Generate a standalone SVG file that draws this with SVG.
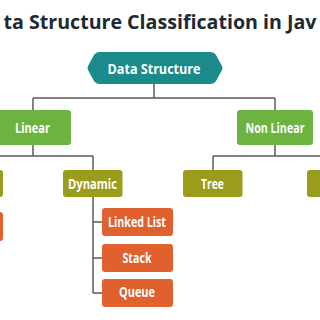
<svg xmlns="http://www.w3.org/2000/svg" width="320" height="320" viewBox="0 0 320 320">
<style>
.t{font-family:"Open Sans","Noto Sans","DejaVu Sans",sans-serif;font-weight:700;fill:#fff;text-anchor:middle}
.lbl{font-size:14px}
.green{fill:#6db33f}
.olive{fill:#9a9c1c}
.orange{fill:#e0602e}
.teal{fill:#1b8a8b}
.c{stroke:#5a5a5a;stroke-width:1.5;fill:none}
</style>
<rect width="320" height="320" fill="#fff"/>
<text x="160" y="28.5" font-family="Open Sans, Noto Sans, sans-serif" font-weight="700" font-size="20" fill="#1b2a33" text-anchor="middle" textLength="313" lengthAdjust="spacingAndGlyphs">ta Structure Classification in Jav</text>
<g id="connectors">
<path class="c" d="M154 84V98M33 98H275M33 98V110M275 98V110"/>
<path class="c" d="M33 145V156M0 156H93M93 156V170M275 145V156M213 156H320M213 156V170"/>
<path class="c" d="M93 197V293M93 222H102M93 258H102M93 293H102"/>
</g>
<g id="data-structure">
<path class="teal" d="M100 52H210Q214 52 216 55L222 66Q223 68 222 70L216 81Q214 84 210 84H100Q96 84 94 81L88 70Q87 68 88 66L94 55Q96 52 100 52Z"/>
<text class="t" x="154" y="73.5" font-size="15" textLength="93" lengthAdjust="spacingAndGlyphs">Data Structure</text>
</g>
<g id="linear">
<rect class="green" x="-6" y="110" width="77" height="35" rx="3"/>
<text class="t lbl" x="32.5" y="132.5" textLength="35" lengthAdjust="spacingAndGlyphs">Linear</text>
</g>
<g id="non-linear">
<rect class="green" x="237" y="110" width="76" height="35" rx="3"/>
<text class="t lbl" x="275" y="132.5" textLength="59" lengthAdjust="spacingAndGlyphs">Non Linear</text>
</g>
<g id="static">
<rect class="olive" x="-60" y="170" width="63" height="27" rx="3"/>
</g>
<g id="dynamic">
<rect class="olive" x="63" y="170" width="59.5" height="27" rx="3"/>
<text class="t lbl" x="92.5" y="188.5" textLength="49" lengthAdjust="spacingAndGlyphs">Dynamic</text>
</g>
<g id="tree">
<rect class="olive" x="183" y="170" width="59.5" height="27" rx="3"/>
<text class="t lbl" x="212.5" y="188.5" textLength="23" lengthAdjust="spacingAndGlyphs">Tree</text>
</g>
<g id="graph">
<rect class="olive" x="307" y="170" width="60" height="27" rx="3"/>
</g>
<g id="array">
<rect class="orange" x="-60" y="212" width="63" height="29" rx="3"/>
</g>
<g id="linked-list">
<rect class="orange" x="102" y="208" width="71" height="28" rx="3"/>
<text class="t lbl" x="137" y="227" textLength="58" lengthAdjust="spacingAndGlyphs">Linked List</text>
</g>
<g id="stack">
<rect class="orange" x="102" y="244" width="71" height="28" rx="3"/>
<text class="t lbl" x="137" y="263" textLength="29" lengthAdjust="spacingAndGlyphs">Stack</text>
</g>
<g id="queue">
<rect class="orange" x="102" y="279" width="71" height="28" rx="3"/>
<text class="t lbl" x="137" y="297" textLength="36" lengthAdjust="spacingAndGlyphs">Queue</text>
</g>
</svg>
